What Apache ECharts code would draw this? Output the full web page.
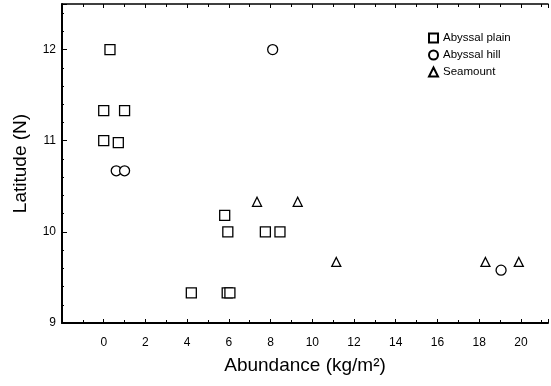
<!DOCTYPE html>
<html>
<head>
<meta charset="utf-8">
<script src="https://cdn.jsdelivr.net/npm/echarts@6/dist/echarts.min.js"></script>
<style>
  html, body { margin: 0; padding: 0; background: #fff; }
  #chart { width: 551px; height: 386px; }
</style>
</head>
<body>
<div id="chart"></div>
<script>
// 数据：[丰度 kg/m², 纬度 N]
const seriesNames = ['Abyssal plain', 'Abyssal hill', 'Seamount'];
const abyssalPlain = [
    [0.3, 12.0], [0.0, 11.33], [1.0, 11.33], [0.0, 11.0], [0.7, 10.98],
    [5.8, 10.18], [5.95, 10.0], [7.75, 10.0], [8.45, 10.0],
    [4.2, 9.33], [5.92, 9.33], [6.05, 9.33]
];
const abyssalHill = [
    [8.1, 12.0], [0.6, 10.67], [1.0, 10.67], [19.05, 9.58]
];
const seamount = [
    [7.35, 10.33], [9.3, 10.33], [11.15, 9.67], [18.3, 9.67], [19.9, 9.67]
];

const font = 'Liberation Sans';

// 空心符号样式
function hollow(symbol, size, data, name) {
    return {
        name: name,
        type: 'scatter',
        symbol: symbol,
        symbolSize: size,
        data: data,
        itemStyle: { color: '#fff', borderColor: '#000', borderWidth: 1.3, opacity: 1 },
        emphasis: { disabled: true }
    };
}

const chart = echarts.init(document.getElementById('chart'));

const option = {
    animation: false,
    backgroundColor: '#fff',
    grid: { left: 62, top: 4, right: 0, bottom: 63 },
    legend: {
        orient: 'vertical',
        left: 423,
        top: 27,
        itemWidth: 9,
        itemHeight: 9,
        itemGap: 5,
        textStyle: { fontFamily: font, fontSize: 11.5, color: '#000' },
        data: seriesNames
    },
    xAxis: [{
        type: 'value',
        min: -2,
        max: 21.3,
        interval: 2,
        name: 'Abundance (kg/m²)',
        nameLocation: 'middle',
        nameGap: 33,
        nameTextStyle: { fontFamily: font, fontSize: 19, color: '#000' },
        axisLine: { onZero: false, lineStyle: { color: '#000', width: 2 } },
        axisTick: { inside: true, length: 4, lineStyle: { color: '#000' } },
        minorTick: { show: true, splitNumber: 2, length: 3, lineStyle: { color: '#000' } },
        axisLabel: {
            margin: 14,
            fontFamily: font,
            fontSize: 12,
            color: '#000',
            formatter: v => (v >= 0 && v % 2 === 0) ? String(v) : ''
        },
        splitLine: { show: false }
    }, {
        type: 'value',
        position: 'top',
        min: -2,
        max: 21.3,
        interval: 2,
        axisLine: { show: true, onZero: false, lineStyle: { color: '#000', width: 1.5 } },
        axisTick: { inside: true, length: 4, lineStyle: { color: '#000' } },
        minorTick: { show: true, splitNumber: 2, length: 3, lineStyle: { color: '#000' } },
        axisLabel: { show: false },
        splitLine: { show: false }
    }],
    yAxis: {
        type: 'value',
        min: 9,
        max: 12.5,
        interval: 1,
        name: 'Latitude (N)',
        nameLocation: 'middle',
        nameGap: 32,
        nameTextStyle: { fontFamily: font, fontSize: 19, color: '#000' },
        axisLine: { show: true, onZero: false, lineStyle: { color: '#000', width: 2 } },
        axisTick: { show: true, inside: true, length: 5, lineStyle: { color: '#000' } },
        minorTick: { show: true, splitNumber: 5, length: 2, lineStyle: { color: '#000' } },
        axisLabel: {
            margin: 6,
            fontFamily: font,
            fontSize: 12,
            color: '#000',
            formatter: v => Number.isInteger(v) ? String(v) : ''
        },
        splitLine: { show: false }
    },
    series: [
        hollow('rect', 10, abyssalPlain, seriesNames[0]),
        hollow('circle', 10, abyssalHill, seriesNames[1]),
        hollow('triangle', 9, seamount, seriesNames[2])
    ]
};

option && chart.setOption(option);
</script>
</body>
</html>
